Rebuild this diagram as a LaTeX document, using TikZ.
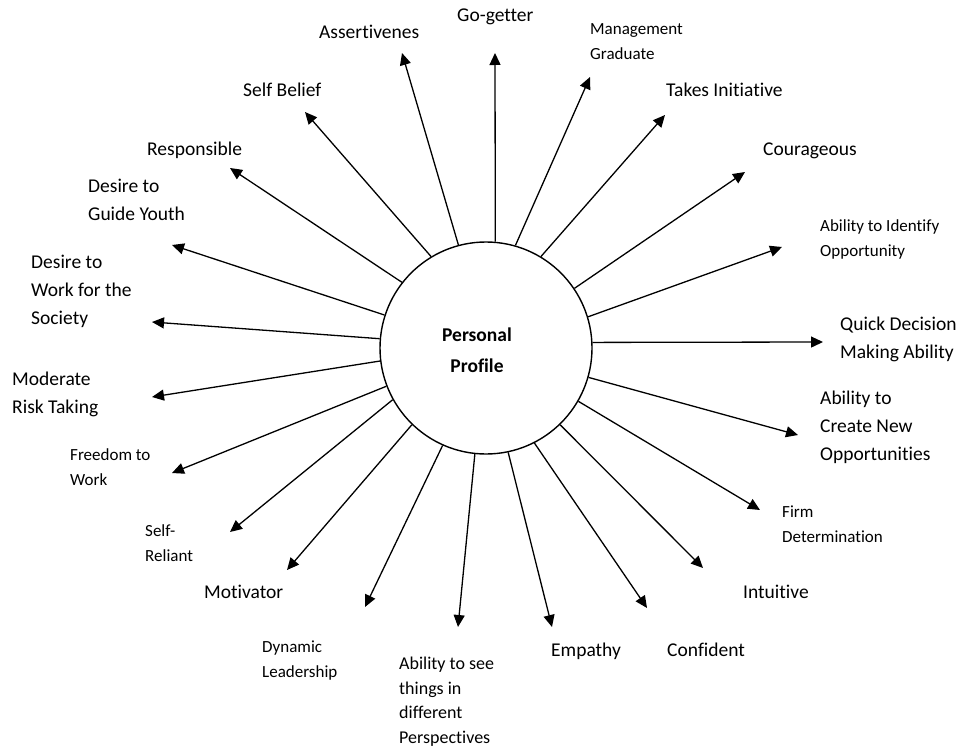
\documentclass[tikz,border=0pt]{standalone}
\usepackage{fontspec}
\setmainfont[Ligatures={NoCommon}]{Carlito}
\usetikzlibrary{arrows.meta}
\tikzset{
  arr/.style={line width=1.3pt, -{Triangle[length=12pt,width=11pt]}},
  lab/.style={anchor=west, inner sep=0pt, align=left, font=\fontsize{19.5}{28}\selectfont},
  slab/.style={anchor=west, inner sep=0pt, align=left, font=\fontsize{17}{25}\selectfont},
  mlab/.style={anchor=west, inner sep=0pt, align=left, font=\fontsize{18}{24.5}\selectfont},
}
\begin{document}
\begin{tikzpicture}[x=1pt,y=-1pt]
\useasboundingbox (0,0) rectangle (963,749);
\node[circle, draw, line width=1.4pt, minimum size=212pt, inner sep=0pt] (pp) at (486,348) {};
\node[inner sep=0pt, align=center, font=\fontsize{19.5}{31}\selectfont\bfseries] (ppl) at (477,351) {\strut Personal\\\strut Profile};
\foreach \a/\x/\y [count=\i] in {
  105.7/402/53, 85.1/495/53, 74.3/590/77, 59.3/665/115, 34.6/745/172,
  17.9/782/247, 3.8/823/342, -16.8/798/435, -30.3/760/510, -46.1/703/568,
  -63.2/647/608, -78.7/552/627, 264.1/458/627, 246.0/365/607, 226.9/287/570,
  209.9/230/532, 201.1/172/473, 187.1/152/397, 175.1/152/322, 162.9/172/245,
  142.9/230/168, 121.0/305/112}
{
  \coordinate (t\i) at (\x,\y);
  \draw[arr] (pp.\a) -- (t\i);
}
\node[lab] (l1) at (319,32.5) {\strut Assertivenes};
\node[lab] (l2) at (457,16) {\strut Go-getter};
\node[slab] (l3) at (590,42.5) {\strut Management\\\strut Graduate};
\node[lab] (l4) at (666,91) {\strut Takes Initiative};
\node[lab] (l5) at (763,150) {\strut Courageous};
\node[slab] (l6) at (820,238.5) {\strut Ability to Identify\\\strut Opportunity};
\node[lab] (l7) at (840,339) {\strut Quick Decision\\\strut Making Ability};
\node[lab] (l8) at (820,426.5) {\strut Ability to\\\strut Create New\\\strut Opportunities};
\node[slab] (l9) at (782,524.5) {\strut Firm\\\strut Determination};
\node[lab] (l10) at (743,593) {\strut Intuitive};
\node[lab] (l11) at (667,651) {\strut Confident};
\node[lab] (l12) at (551,651) {\strut Empathy};
\node[mlab] (l13) at (399,701.5) {\strut Ability to see\\\strut things in\\\strut different\\\strut Perspectives};
\node[slab] (l14) at (262,659.5) {\strut Dynamic\\\strut Leadership};
\node[lab] (l15) at (204,593) {\strut Motivator};
\node[slab] (l16) at (145,544) {\strut Self-\\\strut Reliant};
\node[slab] (l17) at (70,467.5) {\strut Freedom to\\\strut Work};
\node[lab] (l18) at (12,394) {\strut Moderate\\\strut Risk Taking};
\node[lab] (l19) at (31,291) {\strut Desire to\\\strut Work for the\\\strut Society};
\node[lab] (l20) at (88,201) {\strut Desire to\\\strut Guide Youth};
\node[lab] (l21) at (147,150) {\strut Responsible};
\node[lab] (l22) at (243,91) {\strut Self Belief};
\end{tikzpicture}
\end{document}
